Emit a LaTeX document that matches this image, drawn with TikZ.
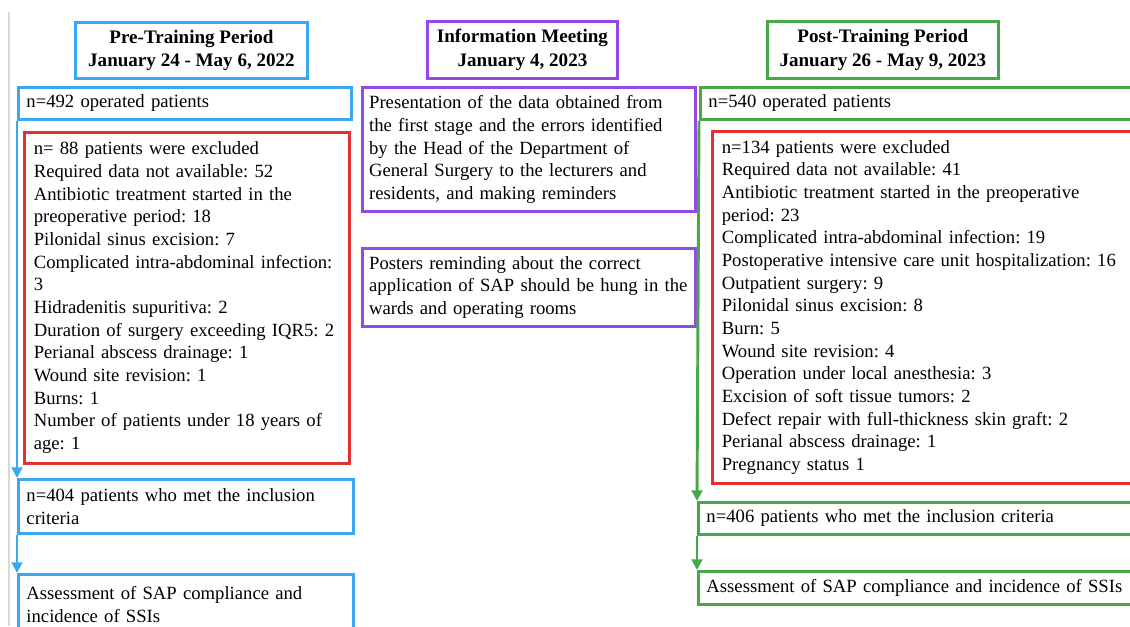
\documentclass[tikz,border=0pt]{standalone}
\usepackage{fontspec}
\setmainfont{Liberation Serif}
\frenchspacing
\usepackage{tikz}
\usetikzlibrary{arrows.meta, positioning}

\definecolor{preblue}{RGB}{58,168,238}
\definecolor{exred}{RGB}{228,48,48}
\definecolor{meetpurple}{RGB}{150,72,228}
\definecolor{postgreen}{RGB}{72,168,72}

\tikzset{
  txtbox/.style={draw, line width=2.2pt, anchor=north west, align=left,
    inner xsep=6pt, inner ysep=3pt,
    font=\fontsize{14}{17}\selectfont},
  headbox/.style={draw, line width=2.2pt, anchor=north west, align=center,
    font=\bfseries\fontsize{14.3}{17.5}\selectfont},
  flow/.style={line width=2.2pt, -{Triangle[length=8pt,width=8pt]}}
}

\begin{document}
\begin{tikzpicture}[x=0.75pt,y=-0.75pt]
    \useasboundingbox (0,0) rectangle (1130,626);
    \clip (0,0) rectangle (1130,626);

    % Draw the thin page rule on the left
    \coordinate (ruletop) at (9,12);
    \coordinate (rulebot) at (9,626);
    \draw[gray!30, line width=0.8pt] (ruletop) -- (rulebot);

    % Draw pre-training column (blue)
    \node[headbox, preblue, text=black, minimum width=174pt, minimum height=42pt] (pre) at (74,21)
        {Pre-Training Period\\January 24 - May 6, 2022};
    \node[txtbox, preblue, text=black, text width=238pt, minimum height=24pt] (preN) at (17,86)
        {n=492 operated patients};
    \node[txtbox, exred, text=black, inner xsep=7pt, text width=230pt, minimum height=248pt] (preEx) at (23,131)
        {n= 88 patients were excluded\\
         Required data not available: 52\\
         Antibiotic treatment started in the\\
         preoperative period: 18\\
         Pilonidal sinus excision: 7\\
         Complicated intra-abdominal infection:\\
         3\\
         Hidradenitis supuritiva: 2\\
         Duration of surgery exceeding IQR5: 2\\
         Perianal abscess drainage: 1\\
         Wound site revision: 1\\
         Burns: 1\\
         Number of patients under 18 years of\\
         age: 1};
    \node[txtbox, preblue, text=black, text width=239pt, minimum height=40.5pt] (preIn) at (17,478)
        {n=404 patients who met the inclusion\\criteria};
    \node[txtbox, preblue, text=black, text width=239pt, minimum height=45pt] (preOut) at (17,573)
        {Assessment of SAP compliance and\\incidence of SSIs};

    \draw[flow, preblue] (preN.south west) -- (preIn.north west);
    \draw[flow, preblue] (preIn.south west) -- (preOut.north west);

    % Draw information meeting column (purple)
    \node[headbox, meetpurple, text=black, minimum width=142.5pt, minimum height=42.5pt] (meet) at (426,20)
        {Information Meeting\\January 4, 2023};
    \node[txtbox, meetpurple, text=black, inner xsep=5pt, text width=240pt, minimum height=93pt] (meetA) at (361,86)
        {Presentation of the data obtained from\\
         the first stage and the errors identified\\
         by the Head of the Department of\\
         General Surgery to the lecturers and\\
         residents, and making reminders};
    \node[txtbox, meetpurple, text=black, inner xsep=5pt, text width=240pt, minimum height=58.5pt] (meetB) at (361,247)
        {Posters reminding about the correct\\
         application of SAP should be hung in the\\
         wards and operating rooms};

    % Draw post-training column (green)
    \node[headbox, postgreen, text=black, minimum width=173pt, minimum height=42.5pt] (post) at (766,20)
        {Post-Training Period\\January 26 - May 9, 2023};
    \node[txtbox, postgreen, text=black, text width=330pt, minimum height=24pt] (postN) at (699,86)
        {n=540 operated patients};
    \node[txtbox, exred, text=black, inner xsep=7pt, text width=330pt, minimum height=264pt] (postEx) at (711,130)
        {n=134 patients were excluded\\
         Required data not available: 41\\
         Antibiotic treatment started in the preoperative\\
         period: 23\\
         Complicated intra-abdominal infection: 19\\
         Postoperative intensive care unit hospitalization: 16\\
         Outpatient surgery: 9\\
         Pilonidal sinus excision: 8\\
         Burn: 5\\
         Wound site revision: 4\\
         Operation under local anesthesia: 3\\
         Excision of soft tissue tumors: 2\\
         Defect repair with full-thickness skin graft: 2\\
         Perianal abscess drainage: 1\\
         Pregnancy status 1};
    \node[txtbox, postgreen, text=black, text width=330pt, minimum height=24pt] (postIn) at (697,501)
        {n=406 patients who met the inclusion criteria};
    \node[txtbox, postgreen, text=black, text width=330pt, minimum height=24.75pt] (postOut) at (697,570)
        {Assessment of SAP compliance and incidence of SSIs};

    \draw[flow, postgreen] (postN.south west) -- (postIn.north west);
    \draw[flow, postgreen] (postIn.south west) -- (postOut.north west);

\end{tikzpicture}
\end{document}
